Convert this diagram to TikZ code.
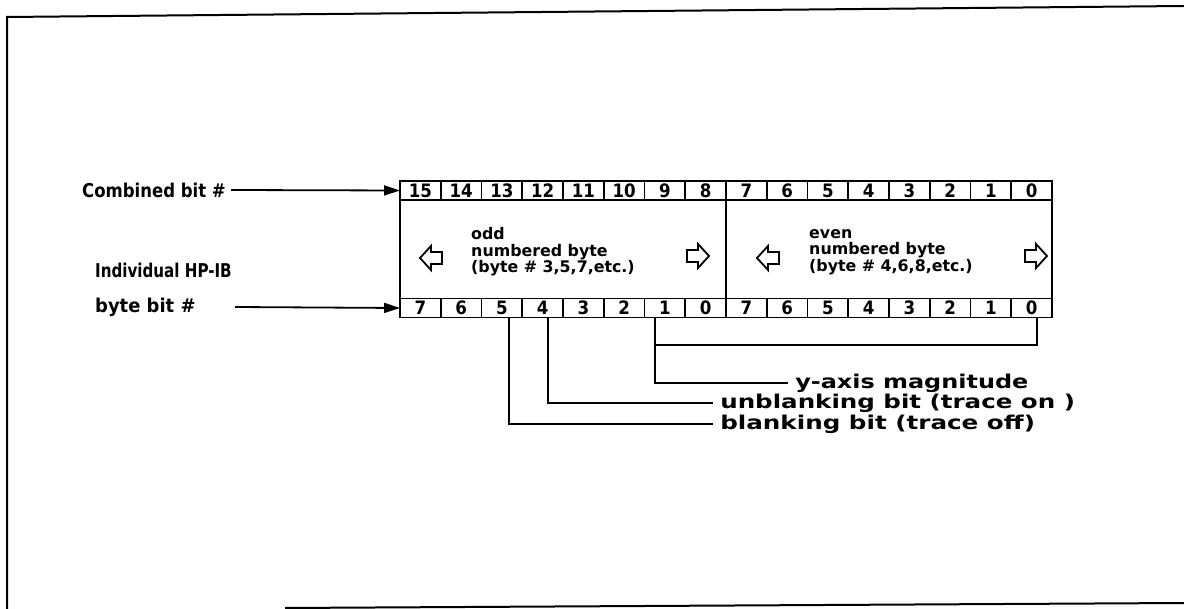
\documentclass[tikz,border=0pt]{standalone}
\usepackage{fontspec}
\setmainfont{DejaVu Sans Condensed}[BoldFont={* Bold}]
\usetikzlibrary{arrows.meta}
\begin{document}
\begin{tikzpicture}[x=1pt,y=-1pt,
  lbl/.style={anchor=west,inner sep=0pt,font=\bfseries\fontsize{19}{19}\selectfont,transform shape},
  cell/.style={draw,line width=1.8pt,minimum width=40.75pt,minimum height=19pt,inner sep=0pt,outer sep=0pt,font=\bfseries\fontsize{18.5}{18}\selectfont},
  ln/.style={line width=1.8pt},
  arr/.style={line width=1.8pt,-{Triangle[length=16pt,width=10pt]}},
  blk/.style={line width=1.8pt,line join=miter},
  btxt/.style={anchor=west,inner sep=0pt,align=left,font=\bfseries\fontsize{16}{16.5}\selectfont,transform shape}
]
\useasboundingbox (0,0) rectangle (1184,609);
% frame
\draw[line width=2pt] (7,609) -- (7,17) -- (1184,6);
\draw[line width=2pt] (285,608) -- (1184,603);
% top row
\foreach \i [evaluate=\i as \lab using int(15-\i)] in {0,...,15}{
  \node[cell] (t\i) at ({420.4+40.75*\i},190.5) {\lab};
}
% bottom row
\foreach \i [evaluate=\i as \lab using {int(mod(15-\i,8))}] in {0,...,15}{
  \node[cell] (b\i) at ({420.4+40.75*\i},308) {\lab};
}
% main box
\draw[ln] (t0.south west) rectangle (b15.north east);
\draw[ln] (t7.south east) -- (b7.north east);
% labels left
\node[lbl,xscale=0.966] (comb) at (82,190) {Combined bit \#};
\node[lbl,xscale=0.885] (ind1) at (95,270) {Individual HP-IB};
\node[lbl,xscale=1.05] (ind2) at (95,307) {byte bit \#};
\coordinate (c1) at (231,190);
\coordinate (c2) at (235,307);
\draw[arr] (c1) -- (t0.west);
\draw[arr] (c2) -- (b0.west);
% byte texts
\node[btxt,xscale=1.1] (odd) at (471,252) {odd\\numbered byte\\(byte \# 3,5,7,etc.)};
\node[btxt,xscale=1.1] (even) at (809,252) {even\\numbered byte\\(byte \# 4,6,8,etc.)};
% block arrows
\newcommand{\leftblk}[2]{\draw[blk] (#1-11,#2) -- (#1,#2-12) -- (#1,#2-6) -- (#1+11,#2-6) -- (#1+11,#2+6) -- (#1,#2+6) -- (#1,#2+12) -- cycle;}
\newcommand{\rightblk}[2]{\draw[blk] (#1+11,#2) -- (#1,#2-12) -- (#1,#2-6) -- (#1-11,#2-6) -- (#1-11,#2+6) -- (#1,#2+6) -- (#1,#2+12) -- cycle;}
\leftblk{431}{258}
\rightblk{698}{256}
\leftblk{768}{258}
\rightblk{1036}{256}
% bit field lines
\node[lbl,xscale=1.40] (ymag) at (795,383) {y-axis magnitude};
\node[lbl,xscale=1.435] (unbl) at (720,403) {unblanking bit (trace on )};
\node[lbl,xscale=1.44] (blnk) at (720,424) {blanking bit (trace off)};
\coordinate (p0) at (1037,318);
\coordinate (p1) at (655,318);
\coordinate (p2) at (548,318);
\coordinate (p3) at (509,318);
\draw[ln] (p0) -- (1037,345) -- (655,345);
\draw[ln] (p1) -- (p1 |- ymag.west) -- ([xshift=-7pt]ymag.west);
\draw[ln] (p2) -- (p2 |- unbl.west) -- ([xshift=-7pt]unbl.west);
\draw[ln] (p3) -- (p3 |- blnk.west) -- ([xshift=-7pt]blnk.west);
\end{tikzpicture}
\end{document}
